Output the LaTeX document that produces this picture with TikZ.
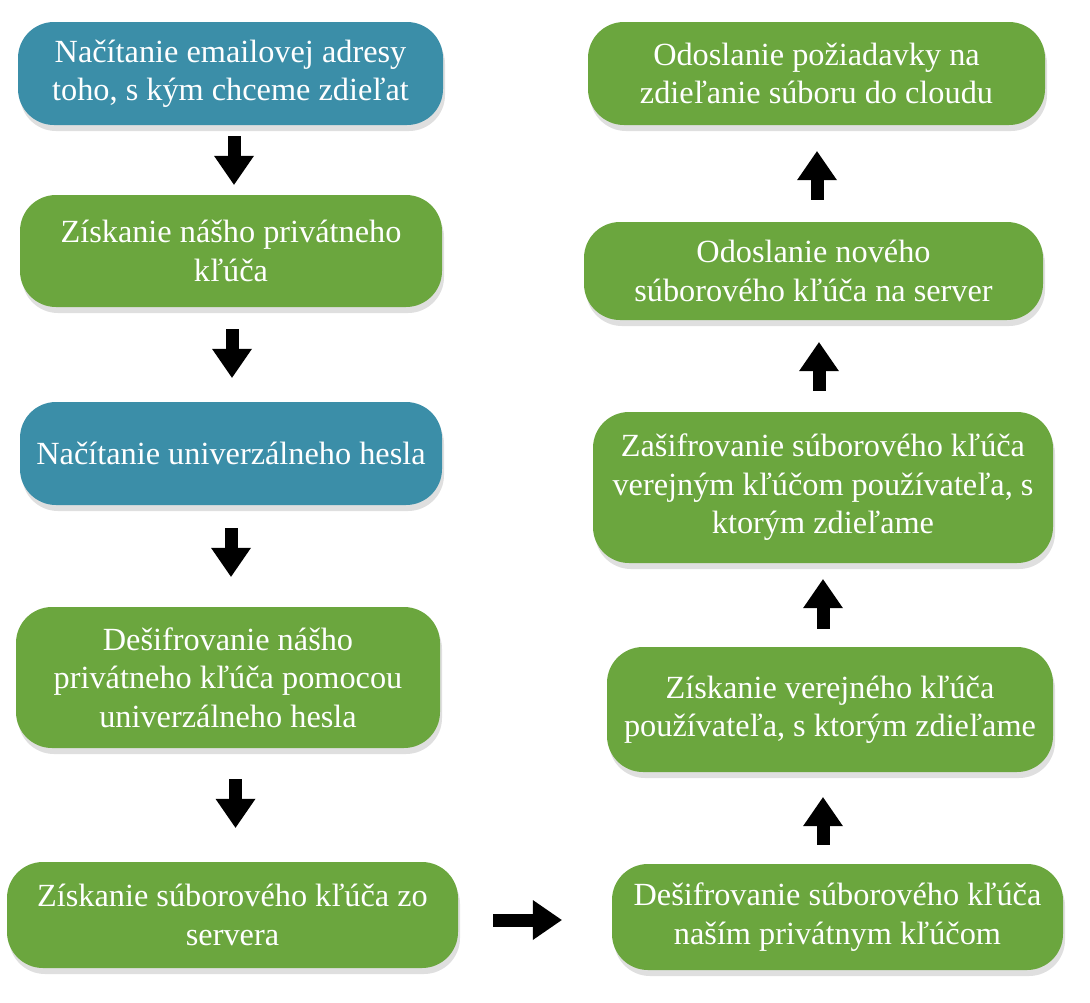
\documentclass[tikz,border=0pt]{standalone}
\usepackage{fontspec}
\setmainfont{Liberation Serif}
\usetikzlibrary{arrows.meta, shadows}
\definecolor{stepblue}{RGB}{59,142,168}
\definecolor{stepgreen}{RGB}{107,166,62}

\begin{document}
\begin{tikzpicture}[
        x=1pt, y=-1pt,
        box/.style={rectangle, rounded corners=36pt, text=white, align=center, inner sep=0pt,
            font=\fontsize{32.3}{38.5}\selectfont,
            drop shadow={shadow xshift=2pt, shadow yshift=-6pt, opacity=0.25}},
        bluebox/.style={box, fill=stepblue},
        greenbox/.style={box, fill=stepgreen},
        blockarrow/.style={line width=13pt, -{Triangle[width=40pt, length=29pt, line width=0pt]}}
    ]
        \useasboundingbox (0,0) rectangle (1090,1002);
        % left column
        \node[bluebox, minimum width=425pt, minimum height=103pt] (email) at (230.5,73.5) {Načítanie emailovej adresy\\toho, s kým chceme zdieľat};
        \node[greenbox, minimum width=422pt, minimum height=112pt] (privkey) at (231,251) {Získanie nášho privátneho\\kľúča};
        \node[bluebox, minimum width=422pt, minimum height=103pt] (heslo) at (231,453.5) {Načítanie univerzálneho hesla};
        \node[greenbox, minimum width=424pt, minimum height=141pt] (desif) at (228,677.5) {Dešifrovanie nášho\\privátneho kľúča pomocou\\univerzálneho hesla};
        \node[greenbox, minimum width=451pt, minimum height=106pt] (subkey) at (232.5,915) {Získanie súborového kľúča zo\\servera};
        % right column
        \node[greenbox, minimum width=451pt, minimum height=106pt] (decrypt) at (837.5,917) {Dešifrovanie súborového kľúča\\naším privátnym kľúčom};
        \node[greenbox, minimum width=446pt, minimum height=125pt] (pubkey) at (830,709.5) {Získanie verejného kľúča\\používateľa, s ktorým zdieľame};
        \node[greenbox, minimum width=460pt, minimum height=151pt] (encrypt) at (823,487.5) {Zašifrovanie súborového kľúča\\verejným kľúčom používateľa, s\\ktorým zdieľame};
        \node[greenbox, minimum width=459pt, minimum height=98pt] (upload) at (813.5,271) {Odoslanie nového\\súborového kľúča na server};
        \node[greenbox, minimum width=457pt, minimum height=103pt] (request) at (816.5,73.5) {Odoslanie požiadavky na\\zdieľanie súboru do cloudu};
        % arrows
        \draw[blockarrow, shorten <=11pt, shorten >=10pt] ([xshift=3.5pt]email.south) -- ([xshift=3.5pt]email.south |- privkey.north);
        \draw[blockarrow, shorten <=22pt, shorten >=24pt] ([xshift=1pt]privkey.south) -- ([xshift=1pt]privkey.south |- heslo.north);
        \draw[blockarrow, shorten <=23pt, shorten >=30pt] (heslo.south) -- (heslo.south |- desif.north);
        \draw[blockarrow, shorten <=31pt, shorten >=34pt] ([xshift=7.5pt]desif.south) -- ([xshift=7.5pt]desif.south |- subkey.north);
        \draw[blockarrow, shorten <=35pt, shorten >=50pt] ([yshift=-5pt]subkey.east) -- ([yshift=-5pt]subkey.east -| decrypt.west);
        \draw[blockarrow, shorten <=19pt, shorten >=25pt] ([xshift=-14.5pt]decrypt.north) -- ([xshift=-14.5pt]decrypt.north |- pubkey.south);
        \draw[blockarrow, shorten <=18pt, shorten >=16pt] ([xshift=-7pt]pubkey.north) -- ([xshift=-7pt]pubkey.north |- encrypt.south);
        \draw[blockarrow, shorten <=21pt, shorten >=22pt] ([xshift=-4pt]encrypt.north) -- ([xshift=-4pt]encrypt.north |- upload.south);
        \draw[blockarrow, shorten <=22pt, shorten >=26pt] ([xshift=3.5pt]upload.north) -- ([xshift=3.5pt]upload.north |- request.south);
    \end{tikzpicture}
\end{document}
